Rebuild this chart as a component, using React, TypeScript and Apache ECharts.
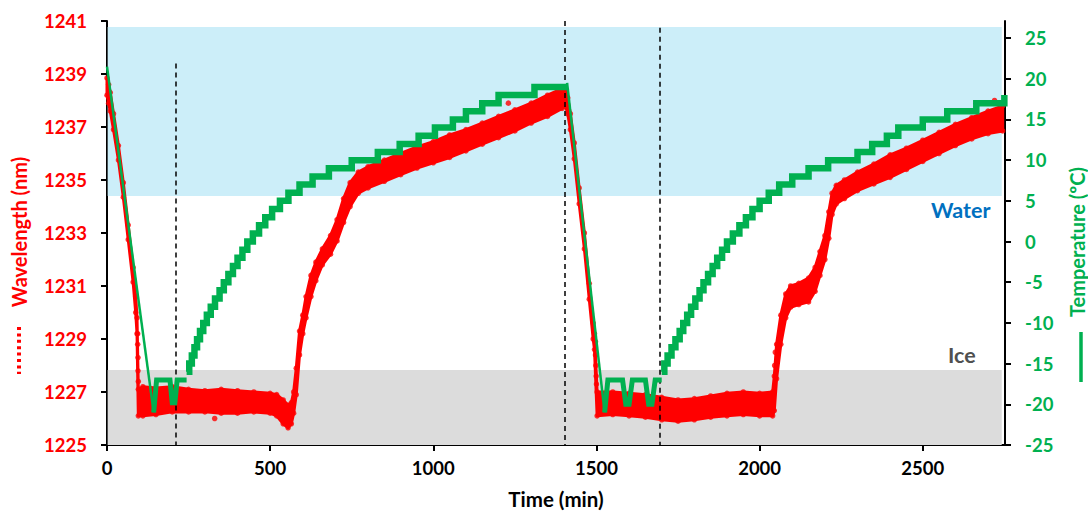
import React, { useEffect, useRef } from "react";
import * as echarts from "echarts";

// ---- Wavelength (nm), red band: time, lower edge, upper edge ----
const wlTime = [0, 5, 10, 20, 35, 50, 65, 80, 88, 92, 96, 110, 150, 200, 250, 300, 350, 400, 450, 500, 520, 540, 555, 565, 572, 580, 590, 600, 610, 625, 640, 660, 685, 705, 725, 745, 770, 800, 850, 900, 950, 1000, 1050, 1100, 1150, 1200, 1250, 1300, 1350, 1395, 1405, 1412, 1420, 1432, 1447, 1463, 1478, 1490, 1494, 1502, 1550, 1600, 1650, 1700, 1750, 1800, 1850, 1900, 1950, 2000, 2040, 2045, 2052, 2065, 2080, 2095, 2120, 2150, 2170, 2185, 2200, 2212, 2222, 2235, 2260, 2300, 2350, 2400, 2450, 2500, 2550, 2600, 2650, 2700, 2745];
const wlLow = [1238.2, 1237.9, 1237.6, 1236.9, 1235.75, 1234.35, 1232.75, 1231.15, 1230.0, 1229.2, 1226.1, 1226.1, 1226.15, 1226.25, 1226.25, 1226.25, 1226.2, 1226.2, 1226.25, 1226.2, 1226.1, 1225.8, 1225.65, 1225.8, 1226.2, 1226.9, 1228.4, 1229.2, 1229.8, 1230.6, 1231.2, 1231.8, 1232.2, 1232.7, 1233.4, 1234.0, 1234.5, 1234.7, 1234.95, 1235.2, 1235.45, 1235.65, 1235.85, 1236.1, 1236.35, 1236.6, 1236.85, 1237.15, 1237.4, 1237.7, 1237.8, 1237.5, 1236.9, 1235.8, 1234.1, 1232.4, 1230.5, 1229.0, 1228.6, 1226.1, 1226.15, 1226.1, 1226.05, 1225.95, 1225.9, 1225.95, 1226.05, 1226.1, 1226.15, 1226.1, 1226.1, 1226.3, 1227.5, 1228.8, 1229.8, 1230.2, 1230.3, 1230.4, 1230.8, 1231.4, 1232.0, 1232.8, 1233.7, 1234.1, 1234.3, 1234.6, 1234.85, 1235.1, 1235.4, 1235.7, 1236.0, 1236.3, 1236.55, 1236.75, 1236.85];
const wlHigh = [1238.85, 1238.6, 1238.3, 1237.5, 1236.3, 1234.9, 1233.3, 1231.7, 1230.6, 1229.8, 1227.1, 1227.2, 1227.15, 1227.2, 1227.1, 1227.05, 1227.1, 1227.05, 1227.0, 1226.95, 1226.9, 1226.7, 1226.5, 1226.6, 1227.0, 1227.9, 1229.3, 1229.9, 1230.6, 1231.4, 1231.9, 1232.4, 1232.9, 1233.5, 1234.3, 1234.9, 1235.3, 1235.5, 1235.75, 1236.0, 1236.25, 1236.45, 1236.7, 1236.9, 1237.15, 1237.4, 1237.65, 1237.9, 1238.2, 1238.45, 1238.45, 1238.1, 1237.5, 1236.4, 1234.7, 1233.0, 1231.1, 1229.6, 1229.2, 1227.0, 1227.0, 1226.95, 1226.9, 1226.8, 1226.7, 1226.75, 1226.85, 1226.95, 1227.0, 1226.95, 1227.0, 1227.6, 1228.8, 1229.9, 1230.7, 1231.0, 1231.1, 1231.3, 1231.7, 1232.3, 1232.9, 1233.8, 1234.5, 1234.8, 1235.0, 1235.3, 1235.6, 1235.95, 1236.2, 1236.5, 1236.8, 1237.1, 1237.35, 1237.6, 1237.8];
// sparse isolated red dots during fast transitions
const dotTime = [94, 94, 95, 95, 96, 1497, 1497, 1498, 1499, 1500, 2046, 2048, 330, 1230, 2540, 2720];
const dotWl = [1229.2, 1228.8, 1228.3, 1227.8, 1227.4, 1228.9, 1228.4, 1228.0, 1227.6, 1227.3, 1228.0, 1228.5, 1226.0, 1237.9, 1236.0, 1238.0];

// ---- Temperature (ºC), green ----
const rampTime1 = [0, 143];
const rampTemp1 = [21.5, -21];
const wTime1 = [143, 152, 193, 200, 208, 215, 244];
const wTemp1 = [-21, -17, -17, -19.8, -19.8, -17, -17];
const stairTime1 = [244, 252, 260, 268, 276, 285, 295, 306, 318, 331, 345, 358, 372, 386, 400, 415, 430, 447, 466, 485, 506, 530, 556, 590, 630, 680, 750, 830, 897, 955, 1005, 1060, 1100, 1150, 1200, 1310, 1410];
const stairTemp1 = [-16, -15, -14, -13, -12, -11, -10, -9, -8, -7, -6, -5, -4, -3, -2, -1, 0, 1, 2, 3, 4, 5, 6, 7, 8, 9, 10, 11, 12, 13, 14, 15, 16, 17, 18, 19, 19];
const rampTime2 = [1410, 1525];
const rampTemp2 = [19.5, -21];
const wTime2 = [1525, 1535, 1580, 1590, 1600, 1610, 1650, 1660, 1670, 1680, 1700];
const wTemp2 = [-21, -17, -17, -20, -20, -17, -17, -20, -20, -17, -17];
const stairTime2 = [1700, 1708, 1718, 1730, 1742, 1755, 1766, 1778, 1790, 1803, 1816, 1828, 1842, 1856, 1870, 1885, 1900, 1918, 1938, 1958, 1978, 2000, 2028, 2060, 2100, 2150, 2210, 2300, 2345, 2390, 2425, 2500, 2575, 2664, 2750];
const stairTemp2 = [-16, -15, -14, -13, -12, -11, -10, -9, -8, -7, -6, -5, -4, -3, -2, -1, 0, 1, 2, 3, 4, 5, 6, 7, 8, 9, 10, 11, 12, 13, 14, 15, 16, 17, 18];

// ---- axes ----
const xTicks = [0, 500, 1000, 1500, 2000, 2500];
const wlTicks = [1225, 1227, 1229, 1231, 1233, 1235, 1237, 1239, 1241];
const tempTicks = [-25, -20, -15, -10, -5, 0, 5, 10, 15, 20, 25];

// ---- annotations ----
const phaseLines = [212, 1403, 1694];
const phaseLineTop = [1239.4, 1241, 1240.75];
const waterBand = [2, 2742, 1234.4, 1240.77];
const iceBand = [2, 2742, 1225, 1227.83];

const RED = "#FF0000";
const GREEN = "#00B050";
const FONT = "Lato, 'Open Sans', sans-serif";

const zip = (a: number[], b: number[]) => a.map((v, i) => [v, b[i]]);
const plain = (v: number) => String(v);

export default function App() {
  const ref = useRef<HTMLDivElement>(null);
  useEffect(() => {
    document.body.style.margin = "0";
    const chart = echarts.init(ref.current!, undefined, { renderer: "svg" });
    const axisLine = { show: true, onZero: false, lineStyle: { color: "#000", width: 2 } };
    const greenLine = (t: number[], v: number[], w: number, step?: any) => ({
      type: "line",
      yAxisIndex: 1,
      data: zip(t, v),
      showSymbol: false,
      symbol: "none",
      step: step || false,
      z: 6,
      lineStyle: { color: GREEN, width: w, cap: "butt", join: "miter" },
      silent: true,
    });
    const tickFont = { fontSize: 18.5, fontWeight: "bold", fontFamily: FONT };
    chart.setOption({
      animation: false,
      grid: { left: 107, right: 83, top: 21, bottom: 69, containLabel: false },
      xAxis: {
        type: "value",
        min: 0,
        max: 2752,
        interval: 500,
        axisLine,
        axisTick: { show: true, length: 6, lineStyle: { color: "#000", width: 2 }, customValues: xTicks },
        axisLabel: { customValues: xTicks, formatter: plain, color: "#000", ...tickFont, margin: 13 },
        splitLine: { show: false },
        name: "Time (min)",
        nameLocation: "middle",
        nameGap: 43,
        nameTextStyle: { color: "#000", fontSize: 20.5, fontWeight: "bold", fontFamily: FONT },
      },
      yAxis: [
        {
          type: "value",
          min: 1225,
          max: 1241,
          interval: 2,
          position: "left",
          axisLine,
          axisTick: { show: true, length: 6, lineStyle: { color: "#000", width: 2 }, customValues: wlTicks },
          axisLabel: { customValues: wlTicks, formatter: plain, color: RED, ...tickFont, margin: 20 },
          splitLine: { show: false },
        },
        {
          type: "value",
          min: -25,
          max: 27.1,
          position: "right",
          axisLine,
          axisTick: { show: true, length: 6, lineStyle: { color: "#000", width: 2 }, customValues: tempTicks },
          axisLabel: { customValues: tempTicks, formatter: plain, color: GREEN, ...tickFont, margin: 20 },
          splitLine: { show: false },
        },
      ],
      series: [
        {
          type: "line",
          yAxisIndex: 0,
          data: zip(wlTime, wlLow),
          showSymbol: false,
          symbol: "none",
          lineStyle: { opacity: 0 },
          z: 1,
          silent: true,
          markArea: {
            silent: true,
            data: [
              [
                { coord: [waterBand[0], waterBand[3]], itemStyle: { color: "#CCEEF9" } },
                { coord: [waterBand[1], waterBand[2]] },
              ],
              [
                { coord: [iceBand[0], iceBand[3]], itemStyle: { color: "#DCDCDC" } },
                { coord: [iceBand[1], iceBand[2]] },
              ],
            ],
          },
        },
        {
          type: "custom",
          yAxisIndex: 0,
          data: wlTime.map((t, i) => [t, wlLow[i], wlHigh[i]]),
          encode: { x: 0, y: [1, 2] },
          z: 3,
          silent: true,
          renderItem: (params: any, api: any) => {
            if (params.dataIndex !== 0) return null;
            const pts: number[][] = [];
            for (let i = 0; i < wlTime.length; i++) pts.push(api.coord([wlTime[i], wlHigh[i]]));
            for (let i = wlTime.length - 1; i >= 0; i--) pts.push(api.coord([wlTime[i], wlLow[i]]));
            return {
              type: "polygon",
              shape: { points: pts },
              style: { fill: RED, stroke: RED, lineWidth: 3, lineJoin: "round" },
            };
          },
        },
        {
          type: "scatter",
          yAxisIndex: 0,
          data: [...zip(wlTime, wlLow), ...zip(wlTime, wlHigh), ...zip(dotTime, dotWl)],
          symbolSize: 5.5,
          itemStyle: { color: RED },
          z: 4,
          silent: true,
          markLine: {
            silent: true,
            symbol: ["none", "none"],
            label: { show: false },
            lineStyle: { color: "#000", width: 1.5, type: [5, 4] },
            data: phaseLines.map((t, i) => [{ coord: [t, phaseLineTop[i]] }, { coord: [t, 1225] }]),
          },
        },
        greenLine(rampTime1, rampTemp1, 2.5),
        greenLine(wTime1, wTemp1, 5),
        greenLine(stairTime1, stairTemp1, 6.5, "end"),
        greenLine(rampTime2, rampTemp2, 2.5),
        greenLine(wTime2, wTemp2, 5),
        greenLine(stairTime2, stairTemp2, 6.5, "end"),
      ],
      graphic: [
        { type: "text", left: 117, top: 35, style: { text: "Freezing", fill: "#000", font: `bold 19px ${FONT}` } },
        { type: "text", left: 328, top: 35, style: { text: "Unfreezing", fill: "#000", font: `bold 19px ${FONT}` } },
        { type: "text", left: 575, top: 35, style: { text: "Freezing", fill: "#000", font: `bold 19px ${FONT}` } },
        { type: "text", left: 788, top: 35, style: { text: "Unfreezing", fill: "#000", font: `bold 19px ${FONT}` } },
        { type: "text", left: 931, top: 199, style: { text: "Water", fill: "#0070C0", font: `bold 21.5px ${FONT}` } },
        { type: "text", left: 948, top: 344, style: { text: "Ice", fill: "#505050", font: `bold 21.5px ${FONT}` } },
        {
          type: "text",
          x: 19,
          y: 232,
          rotation: Math.PI / 2,
          style: { text: "Wavelength (nm)", fill: RED, font: `bold 20px ${FONT}`, align: "center", verticalAlign: "middle" },
        },
        { type: "line", shape: { x1: 19, y1: 327, x2: 19, y2: 374 }, style: { stroke: RED, lineWidth: 4, lineDash: [3, 3.4] } },
        {
          type: "text",
          x: 1077,
          y: 242,
          rotation: Math.PI / 2,
          style: { text: "Temperature (ºC)", fill: GREEN, font: `bold 20px ${FONT}`, align: "center", verticalAlign: "middle" },
        },
        { type: "line", shape: { x1: 1081, y1: 332, x2: 1081, y2: 382 }, style: { stroke: GREEN, lineWidth: 3.5 } },
      ],
    });
    return () => chart.dispose();
  }, []);
  return <div ref={ref} style={{ width: 1088, height: 514 }} />;
}
